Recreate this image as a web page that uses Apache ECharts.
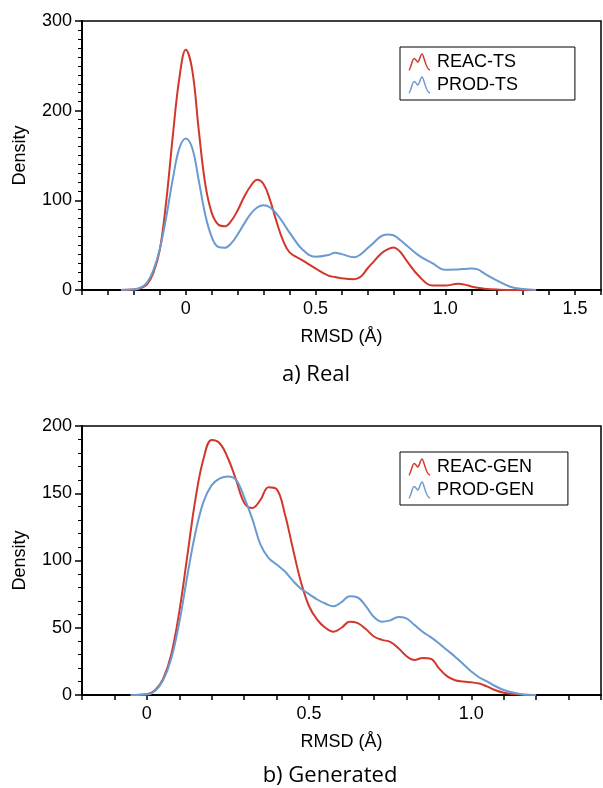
<!DOCTYPE html>
<html>
<head>
<meta charset="utf-8">
<script src="https://cdn.jsdelivr.net/npm/echarts@6/dist/echarts.min.js"></script>
<style>
  html, body { margin: 0; padding: 0; background: #fff; }
  #chart { width: 603px; height: 788px; }
</style>
</head>
<body>
<div id="chart"></div>
<script>
// a) Real
var realX = [-0.25, -0.2, -0.175, -0.15, -0.125, -0.1, -0.075, -0.05, -0.025, 0, 0.025, 0.05, 0.075, 0.1,
  0.125, 0.15, 0.175, 0.2, 0.225, 0.25, 0.275, 0.3, 0.325, 0.35, 0.375, 0.4, 0.45, 0.5, 0.55, 0.575, 0.6,
  0.65, 0.675, 0.7, 0.725, 0.75, 0.775, 0.8, 0.825, 0.85, 0.9, 0.95, 1.0, 1.05, 1.075, 1.1, 1.125, 1.15,
  1.2, 1.25, 1.3, 1.35];
var reacTs = [0, 0.5, 2, 6, 19, 45, 100, 172, 236, 268, 245, 178, 118, 86,
  73, 71, 77, 89, 104, 116, 123, 118, 100, 76, 55, 42, 33, 24, 16, 14.5, 13,
  12, 15, 24, 32, 40, 45, 47.5, 43, 33, 15, 5, 5, 7, 6, 4, 2.5, 1.5,
  0.5, 0, 0, 0];
var prodTs = [0, 0.5, 2.5, 8, 22, 46, 82, 124, 158, 169, 158, 122, 84, 59,
  48, 47, 52, 62, 74, 85, 92, 94.5, 92, 85, 75, 64, 45, 37, 39, 41.5, 40,
  36.5, 40, 46.5, 53, 59.5, 62, 61, 56, 50, 38, 30, 22.5, 23, 23.5, 24, 23, 18.5,
  10.5, 3.7, 1, 0];

// b) Generated
var genX = [-0.05, 0, 0.025, 0.05, 0.075, 0.1, 0.125, 0.15, 0.175, 0.2, 0.225, 0.25, 0.275,
  0.3, 0.325, 0.35, 0.375, 0.4, 0.425, 0.45, 0.475, 0.5, 0.525, 0.55, 0.575, 0.6, 0.625, 0.65, 0.675,
  0.7, 0.725, 0.75, 0.775, 0.8, 0.825, 0.85, 0.875, 0.9, 0.925, 0.95, 0.975, 1.0, 1.025, 1.05, 1.075,
  1.1, 1.125, 1.15, 1.175, 1.2];
var reacGen = [0, 0.5, 3.5, 12, 30, 62, 104, 146, 176, 189.5, 187, 176, 160,
  143, 139, 145, 154.5, 153, 135, 109, 84, 66, 56, 50, 47, 50, 54.5, 53.5, 49,
  43.5, 41, 39.5, 35, 29, 26, 27.5, 27, 20, 14, 11, 10, 9.4, 8.5, 6.2, 3.5,
  1.7, 0.8, 0.3, 0, 0];
var prodGen = [0, 0.3, 3, 11, 27, 54, 89, 121, 144, 156, 161, 162.5, 160,
  147, 131, 112, 102, 97, 92, 85, 79, 75, 71, 68, 66, 69, 73.5, 72.5, 66,
  58, 54.5, 55.5, 58, 57, 52, 47, 43, 38.5, 33.5, 28.5, 23, 17.5, 13, 10, 6.5,
  3.7, 2, 0.8, 0.2, 0];

var realLabels = [0, 0.5, 1.0, 1.5];
var realTicks = [-0.4, -0.3, -0.2, -0.1, 0, 0.1, 0.2, 0.3, 0.4, 0.5, 0.6, 0.7, 0.8, 0.9, 1.0, 1.1, 1.2, 1.3, 1.4, 1.5, 1.6];
var genLabels = [0, 0.5, 1.0];
var genTicks = [-0.2, -0.1, 0, 0.1, 0.2, 0.3, 0.4, 0.5, 0.6, 0.7, 0.8, 0.9, 1.0, 1.1, 1.2, 1.3, 1.4];

var RED = '#d0382b';
var BLUE = '#6a9ad0';
var FONT = 'Liberation Sans';
var ICON = 'path://M0,18 C2,18 4,5 6,5 C8,5 9,9 10,9 C12,9 13,0 15,0 C17,0 19,18 24,18';

function pairs(xs, ys) {
  return xs.map(function (x, i) { return [x, ys[i]]; });
}

function fmt(v) {
  return v === 0 ? '0' : v.toFixed(1);
}

function xAxis(idx, min, max, labels, ticks) {
  return {
    type: 'value', gridIndex: idx, min: min, max: max,
    name: 'RMSD (Å)', nameLocation: 'middle', nameGap: 38,
    nameTextStyle: { fontFamily: FONT, fontSize: 18, color: '#000' },
    axisLine: { onZero: false, lineStyle: { color: '#000', width: 2 } },
    axisTick: { show: true, length: 5, lineStyle: { color: '#000', width: 1.5 }, customValues: ticks },
    axisLabel: { fontFamily: FONT, fontSize: 18, color: '#000', margin: 10, customValues: labels, formatter: fmt },
    splitLine: { show: false }
  };
}

function yAxis(idx, max, interval) {
  return {
    type: 'value', gridIndex: idx, min: 0, max: max, interval: interval,
    name: 'Density', nameLocation: 'middle', nameGap: 53,
    nameTextStyle: { fontFamily: FONT, fontSize: 18, color: '#000' },
    axisLine: { show: true, onZero: false, lineStyle: { color: '#000', width: 2 } },
    axisTick: { show: true, length: 7, lineStyle: { color: '#000', width: 1.5 } },
    minorTick: { show: true, splitNumber: interval / 10, length: 4, lineStyle: { color: '#000', width: 1 } },
    axisLabel: { fontFamily: FONT, fontSize: 18, color: '#000', margin: 10 },
    splitLine: { show: false }
  };
}

function legend(top, names, colors, padRight) {
  return {
    left: 400, top: top, orient: 'vertical',
    selectedMode: false,
    itemWidth: 25, itemHeight: 16, itemGap: 5,
    padding: [6, padRight, 6, 8],
    borderColor: '#000', borderWidth: 1,
    textStyle: { fontFamily: FONT, fontSize: 18, color: '#000' },
    data: names.map(function (n, i) {
      return { name: n, icon: ICON, itemStyle: { color: 'transparent', borderColor: colors[i], borderWidth: 1.5 } };
    })
  };
}

function line(name, data, idx, color) {
  return {
    name: name, type: 'line', xAxisIndex: idx, yAxisIndex: idx,
    data: data, smooth: 0.4, showSymbol: false, silent: true,
    lineStyle: { color: color, width: 2 },
    itemStyle: { color: color }
  };
}

var chart = echarts.init(document.getElementById('chart'));
chart.setOption({
  animation: false,
  backgroundColor: '#fff',
  grid: [
    { left: 82, top: 21, width: 519, height: 269, show: true, borderColor: '#000', borderWidth: 1.5 },
    { left: 82, top: 426, width: 519, height: 269, show: true, borderColor: '#000', borderWidth: 1.5 }
  ],
  xAxis: [
    xAxis(0, -0.4, 1.6, realLabels, realTicks),
    xAxis(1, -0.2, 1.4, genLabels, genTicks)
  ],
  yAxis: [
    yAxis(0, 300, 100),
    yAxis(1, 200, 50)
  ],
  legend: [
    legend(47, ['REAC-TS', 'PROD-TS'], [RED, BLUE], 57),
    legend(452, ['REAC-GEN', 'PROD-GEN'], [RED, BLUE], 34)
  ],
  graphic: [
    { type: 'text', x: 316, y: 375, style: { text: 'a) Real', font: '22px "Open Sans"', fill: '#000', align: 'center', verticalAlign: 'middle' } },
    { type: 'text', x: 330, y: 776, style: { text: 'b) Generated', font: '22px "Open Sans"', fill: '#000', align: 'center', verticalAlign: 'middle' } }
  ],
  series: [
    line('REAC-TS', pairs(realX, reacTs), 0, RED),
    line('PROD-TS', pairs(realX, prodTs), 0, BLUE),
    line('REAC-GEN', pairs(genX, reacGen), 1, RED),
    line('PROD-GEN', pairs(genX, prodGen), 1, BLUE)
  ]
});
</script>
</body>
</html>
